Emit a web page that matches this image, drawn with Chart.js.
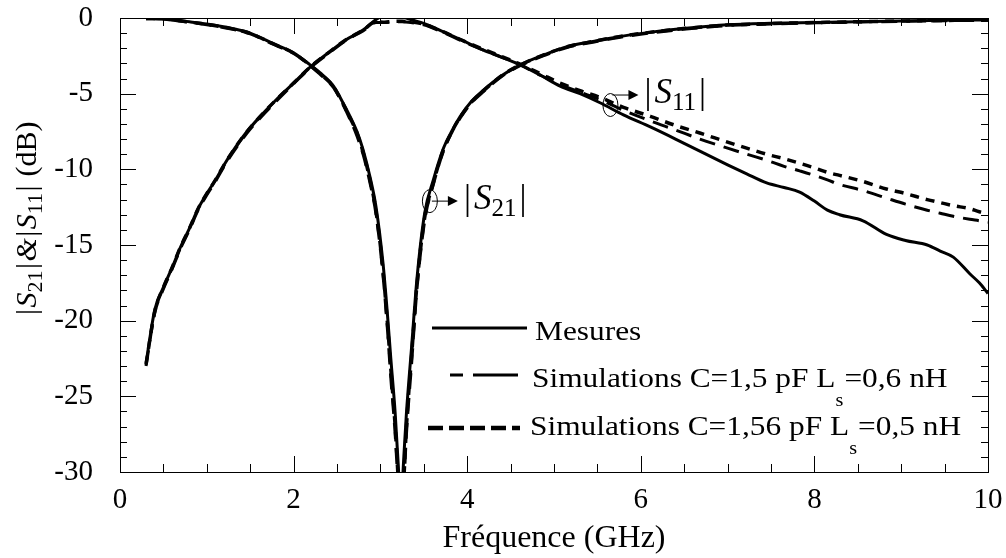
<!DOCTYPE html>
<html>
<head>
<meta charset="utf-8">
<script src="https://cdn.jsdelivr.net/npm/chart.js@4.4.0/dist/chart.umd.min.js"></script>
<style>
body { margin: 0; background: #fff; }
</style>
</head>
<body>
<canvas id="graphe" width="1006" height="558"></canvas>
<script>
// |S21| : fréquences (GHz) et niveaux (dB)
var freqS21 = [0.3, 0.5, 0.8, 1.0, 1.3, 1.5, 1.77, 2.0, 2.19, 2.3,
    2.46, 2.55, 2.65, 2.73, 2.8, 2.88, 2.95, 3.03, 3.08, 3.12,
    3.17, 3.21, 3.23, 3.25, 3.27, 3.3, 3.36, 3.42, 3.51, 3.61,
    3.72, 3.82, 3.92, 4.05, 4.18, 4.4, 4.61, 4.9, 5.15, 5.45,
    5.73, 6.1, 6.49, 7.0, 7.5, 8.0, 8.5, 9.0, 9.5, 10.0];
var s21Mesures = [-0.02, -0.05, -0.25, -0.4, -0.7, -1.0, -1.7, -2.3, -3.1, -3.6,
    -4.5, -5.4, -6.5, -7.5, -8.7, -10.5, -12.5, -16.2, -19.5, -22.5,
    -26.1, -30.0, -32.0, -31.0, -29.0, -26.1, -21.7, -17.3, -12.9, -10.7,
    -8.7, -7.5, -6.5, -5.5, -4.8, -3.8, -3.1, -2.4, -1.9, -1.55,
    -1.25, -0.95, -0.7, -0.45, -0.35, -0.3, -0.25, -0.2, -0.15, -0.13];
var s21SimA = [-0.05, -0.08, -0.28, -0.45, -0.75, -1.05, -1.75, -2.35, -3.15, -3.7,
    -4.6, -5.5, -6.7, -7.8, -9.0, -10.9, -13.0, -17.0, -20.5, -23.8,
    -27.5, -31.5, -33.0, -33.0, -31.0, -27.5, -22.8, -18.0, -13.4, -11.0,
    -8.9, -7.6, -6.6, -5.6, -4.9, -3.85, -3.15, -2.45, -1.95, -1.6,
    -1.3, -1.0, -0.75, -0.5, -0.4, -0.32, -0.27, -0.22, -0.18, -0.15];
var s21SimB = [-0.03, -0.06, -0.27, -0.42, -0.72, -1.02, -1.72, -2.32, -3.12, -3.65,
    -4.55, -5.45, -6.6, -7.6, -8.85, -10.7, -12.8, -16.7, -20.1, -23.2,
    -27.0, -31.0, -33.0, -32.5, -30.5, -27.0, -22.3, -17.7, -13.2, -10.9,
    -8.8, -7.55, -6.55, -5.55, -4.85, -3.8, -3.1, -2.4, -1.9, -1.55,
    -1.25, -0.95, -0.7, -0.47, -0.37, -0.3, -0.25, -0.2, -0.16, -0.14];

// |S11|
var freqS11 = [0.3, 0.4, 0.5, 0.6, 0.7, 0.8, 0.9, 1.0, 1.1, 1.2, 1.3,
    1.45, 1.6, 1.8, 2.0, 2.2, 2.4, 2.6, 2.8, 2.95, 3.05,
    3.15, 3.25, 3.35, 3.5, 3.72, 3.95, 4.18, 4.4, 4.61, 4.85,
    5.07, 5.3, 5.53, 5.8, 6.11, 6.4, 6.68, 7.0, 7.22, 7.45,
    7.65, 7.83, 8.0, 8.15, 8.29, 8.56, 8.83, 9.05, 9.3, 9.45,
    9.6, 9.79, 9.9, 10.0];
var s11Mesures = [-22.8, -19.3, -17.8, -16.5, -15.1, -13.9, -12.6, -11.6, -10.7, -9.7, -8.8,
    -7.6, -6.6, -5.4, -4.3, -3.2, -2.3, -1.45, -0.8, -0.1, 0.2,
    0.3, 0.1, -0.1, -0.35, -0.9, -1.5, -2.1, -2.6, -3.1, -3.8,
    -4.5, -5.0, -5.6, -6.4, -7.2, -8.0, -8.8, -9.7, -10.3, -10.9,
    -11.2, -11.5, -12.1, -12.7, -13.0, -13.4, -14.3, -14.7, -15.0, -15.4,
    -15.8, -16.9, -17.5, -18.2];
var s11SimA = [-23.0, -19.5, -17.9, -16.6, -15.2, -14.0, -12.7, -11.7, -10.8, -9.8, -8.9,
    -7.7, -6.7, -5.5, -4.35, -3.25, -2.35, -1.5, -0.85, -0.3, -0.3,
    -0.25, -0.25, -0.3, -0.45, -0.95, -1.55, -2.1, -2.6, -3.1, -3.8,
    -4.4, -4.9, -5.4, -6.1, -6.8, -7.4, -8.0, -8.6, -9.0, -9.4,
    -9.8, -10.1, -10.4, -10.7, -11.0, -11.4, -11.9, -12.3, -12.7, -12.9,
    -13.1, -13.3, -13.4, -13.5];
var s11SimB = [-22.9, -19.4, -17.8, -16.5, -15.1, -13.9, -12.6, -11.6, -10.7, -9.7, -8.8,
    -7.6, -6.6, -5.4, -4.3, -3.2, -2.3, -1.45, -0.8, -0.25, -0.28,
    -0.22, -0.22, -0.25, -0.4, -0.9, -1.5, -2.05, -2.55, -3.05, -3.7,
    -4.3, -4.8, -5.25, -5.9, -6.5, -7.1, -7.6, -8.2, -8.6, -9.0,
    -9.3, -9.6, -9.9, -10.2, -10.4, -10.8, -11.3, -11.6, -12.0, -12.2,
    -12.4, -12.6, -12.8, -12.9];

var legendeTextes = ['Mesures', 'Simulations C=1,5 pF L', 'Simulations C=1,56 pF L'];
var legendeSuite = ['', '=0,6 nH', '=0,5 nH'];

var SERIF = "'Liberation Serif', 'Times New Roman', serif";

function points(freq, vals)
{
    return freq.map(function(f, i) {
        return {x: f, y: vals[i]};
    });
}

function serie(freq, vals, dash, width, order)
{
    return {
        data: points(freq, vals),
        borderColor: '#000',
        borderWidth: width,
        borderDash: dash,
        pointRadius: 0,
        cubicInterpolationMode: 'monotone',
        fill: false,
        order: order
    };
}

// texte avec indices : parts = [[texte, style]], style n / i / sub
function texteMath(ctx, parts, x, y, taille, esp)
{
    var cx = x;
    parts.forEach(function(p) {
        var t = p[0], st = p[1];
        if (t === '|') cx += esp;
        if (st === 'sub') {
            ctx.font = Math.round(taille * 0.72) + 'px ' + SERIF;
            ctx.fillText(t, cx, y + taille * 0.28);
        } else {
            ctx.font = (st === 'i' ? 'italic ' : '') + taille + 'px ' + SERIF;
            ctx.fillText(t, cx, y);
        }
        cx += ctx.measureText(t).width + (t === '|' ? esp : 0);
    });
    return cx - x;
}

function largeurMath(ctx, parts, taille, esp)
{
    var w = 0;
    parts.forEach(function(p) {
        ctx.font = (p[1] === 'sub' ? Math.round(taille * 0.72) + 'px ' : (p[1] === 'i' ? 'italic ' : '') + taille + 'px ') + SERIF;
        w += ctx.measureText(p[0]).width + (p[0] === '|' ? 2 * esp : 0);
    });
    return w;
}

var cadrePlugin = {
    id: 'cadre',
    afterDatasetsDraw: function(chart) {
        var ctx = chart.ctx, a = chart.chartArea, sx = chart.scales.x, sy = chart.scales.y;
        ctx.save();
        ctx.strokeStyle = '#000';
        ctx.lineWidth = 1;
        ctx.strokeRect(Math.round(a.left) + 0.5, Math.round(a.top) + 0.5,
            Math.round(a.right - a.left), Math.round(a.bottom - a.top));
        ctx.beginPath();
        for (var i = 0; i <= 20; i++) {
            var px = Math.round(sx.getPixelForValue(i * 0.5)) + 0.5;
            var l = (i % 4 === 0) ? 16 : 8;
            ctx.moveTo(px, a.bottom); ctx.lineTo(px, a.bottom - l);
            ctx.moveTo(px, a.top); ctx.lineTo(px, a.top + l);
        }
        for (var j = 0; j <= 30; j++) {
            var py = Math.round(sy.getPixelForValue(-j)) + 0.5;
            var m = (j % 5 === 0) ? 16 : 7;
            ctx.moveTo(a.left, py); ctx.lineTo(a.left + m, py);
            ctx.moveTo(a.right, py); ctx.lineTo(a.right - m, py);
        }
        ctx.stroke();

        // annotations |S21| et |S11|
        ctx.fillStyle = '#000';
        ctx.textBaseline = 'middle';
        ctx.textAlign = 'left';
        var cibles = [
            {f: 3.57, db: -12.1, dy: 0, nom: '21'},
            {f: 5.65, db: -5.75, dy: -10, nom: '11'}
        ];
        cibles.forEach(function(c) {
            var ex = sx.getPixelForValue(c.f), ey = sy.getPixelForValue(c.db);
            ctx.beginPath();
            ctx.ellipse(ex, ey, 7.5, 11.5, 0, 0, Math.PI * 2);
            ctx.stroke();
            var ay = ey + c.dy;
            ctx.beginPath();
            ctx.moveTo(ex + 2, ay); ctx.lineTo(ex + 20, ay);
            ctx.stroke();
            ctx.beginPath();
            ctx.moveTo(ex + 28, ay); ctx.lineTo(ex + 18, ay - 5); ctx.lineTo(ex + 18, ay + 5);
            ctx.closePath();
            ctx.fill();
            texteMath(ctx, [['|', 'n'], ['S', 'i'], [c.nom, 'sub'], ['|', 'n']], ex + 31, ay - 1, 35, 3);
        });

        // légende
        var lignes = [328, 375, 428];
        ctx.lineWidth = 3;
        ctx.beginPath(); ctx.moveTo(432, lignes[0]); ctx.lineTo(527, lignes[0]); ctx.stroke();
        ctx.beginPath(); ctx.moveTo(450, lignes[1]); ctx.lineTo(463, lignes[1]);
        ctx.moveTo(473, lignes[1]); ctx.lineTo(518, lignes[1]); ctx.stroke();
        ctx.lineWidth = 4.5;
        ctx.setLineDash([15, 6]);
        ctx.beginPath(); ctx.moveTo(428, lignes[2]); ctx.lineTo(520, lignes[2]); ctx.stroke();
        ctx.setLineDash([]);

        ctx.textBaseline = 'alphabetic';
        var bases = [340, 387, 435];
        var departs = [535, 532, 530];
        for (var k = 0; k < 3; k++) {
            ctx.save();
            ctx.translate(departs[k], bases[k]);
            ctx.scale(1.12, 1);
            ctx.font = '28px ' + SERIF;
            ctx.fillText(legendeTextes[k], 0, 0);
            var w = ctx.measureText(legendeTextes[k]).width;
            if (legendeSuite[k]) {
                ctx.font = '18px ' + SERIF;
                ctx.fillText('s', w, 19);
                var ws = ctx.measureText('s').width;
                ctx.font = '28px ' + SERIF;
                ctx.fillText(legendeSuite[k], w + ws + 1, 0);
            }
            ctx.restore();
        }

        // titre de l'axe Y
        var titre = [['|', 'n'], ['S', 'i'], ['21', 'sub'], ['|', 'n'], ['&', 'i'], ['|', 'n'],
            ['S', 'i'], ['11', 'sub'], ['|', 'n'], [' (dB)', 'n']];
        ctx.save();
        ctx.translate(28, 219);
        ctx.rotate(-Math.PI / 2);
        ctx.textBaseline = 'middle';
        var lt = largeurMath(ctx, titre, 30, 1.5);
        texteMath(ctx, titre, -lt / 2, 0, 30, 1.5);
        ctx.restore();

        ctx.restore();
    }
};

var ctx = document.getElementById('graphe');
var graphe = new Chart(ctx, {
    type: 'line',
    data: {
        datasets: [
            serie(freqS21, s21SimA, [16, 9], 3, 2),
            serie(freqS21, s21SimB, [9, 7], 3.5, 1),
            serie(freqS21, s21Mesures, [], 3, 0),
            serie(freqS11, s11SimA, [16, 9], 3, 2),
            serie(freqS11, s11SimB, [9, 7], 3.5, 1),
            serie(freqS11, s11Mesures, [], 3, 0)
        ]
    },
    options: {
        responsive: false,
        animation: false,
        layout: { padding: { top: 18, right: 18, left: 0, bottom: 0 } },
        plugins: {
            legend: { display: false },
            tooltip: { enabled: false }
        },
        scales: {
            x: {
                type: 'linear',
                min: 0,
                max: 10,
                afterFit: function(s) {
                    s.height = 86;
                    s.paddingLeft = 0;
                    s.paddingRight = 0;
                },
                ticks: { stepSize: 2, color: '#000', padding: 11, font: { family: SERIF, size: 29 } },
                grid: { display: false, drawTicks: false },
                border: { display: false },
                title: { display: true, text: 'Fréquence (GHz)', color: '#000', padding: 0,
                    font: { family: SERIF, size: 32 } }
            },
            y: {
                type: 'linear',
                min: -30,
                max: 0,
                afterFit: function(s) {
                    s.width = 120;
                    s.paddingTop = 0;
                    s.paddingBottom = 0;
                },
                ticks: { stepSize: 5, color: '#000', padding: 27, font: { family: SERIF, size: 29 } },
                grid: { display: false, drawTicks: false },
                border: { display: false }
            }
        }
    },
    plugins: [cadrePlugin]
});
</script>
</body>
</html>
